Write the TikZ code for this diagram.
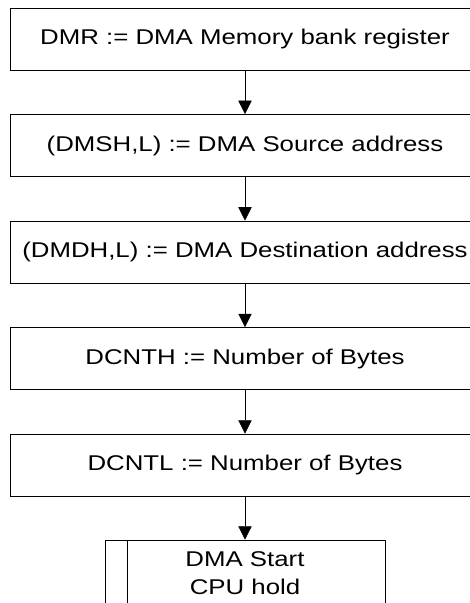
\documentclass[tikz,border=0pt]{standalone}
\usepackage{fontspec}
\setmainfont{Liberation Sans}
\newfontfamily\widesans[FakeStretch=1.21]{Liberation Sans}
\usetikzlibrary{positioning}
\usetikzlibrary{arrows.meta}
\tikzset{stepbox/.style={rectangle,draw=black,line width=0.75pt,minimum width=352.5pt,minimum height=46.5pt,inner sep=0pt,font=\widesans\fontsize{16}{21.5}\selectfont}}
\tikzset{procbox/.style={stepbox,minimum width=210pt,minimum height=49.5pt,align=center}}
\tikzset{>={Triangle[width=10pt,length=10pt]}}

\begin{document}
\begin{tikzpicture}
\useasboundingbox (0,0) rectangle (352.5pt,-452.25pt);
\clip (0,0) rectangle (352.5pt,-452.25pt);
\begin{scope}[on grid, node distance=79.9pt]

\node[stepbox] at (183.75pt,-29.25pt) (dmr) {DMR := DMA Memory bank register};
\node[stepbox, below=of dmr] (src) {(DMSH,L) := DMA Source address};
\node[stepbox, below=of src] (dst) {(DMDH,L) := DMA Destination address};
\node[stepbox, below=of dst] (cnth) {DCNTH := Number of Bytes};
\node[stepbox, below=of cnth] (cntl) {DCNTL := Number of Bytes};
\node[procbox, below=81pt of cntl] (start) {DMA Start\\CPU hold};

\draw[->] (dmr) -- (src);
\draw[->] (src) -- (dst);
\draw[->] (dst) -- (cnth);
\draw[->] (cnth) -- (cntl);
\draw[->] (cntl) -- (start);
\draw[line width=0.75pt] ([xshift=17.25pt]start.north west) -- ([xshift=17.25pt]start.south west);

\end{scope}
\end{tikzpicture}
\end{document}
